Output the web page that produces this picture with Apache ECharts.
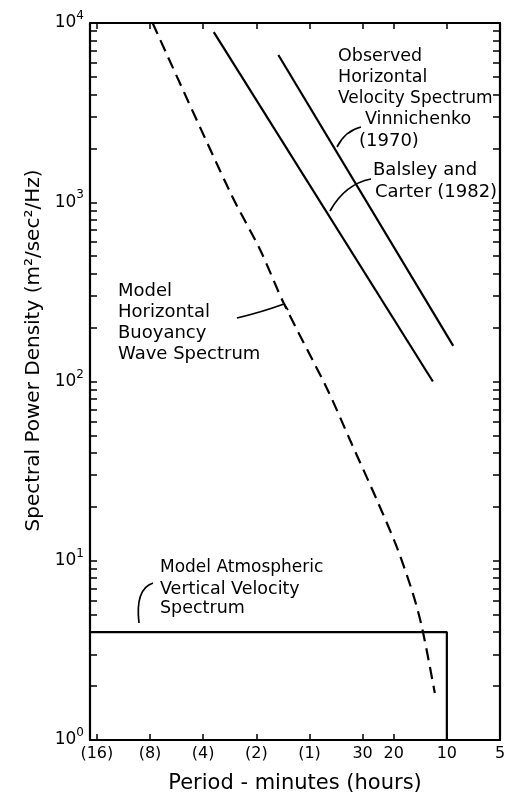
<!DOCTYPE html>
<html>
<head>
<meta charset="utf-8">
<script src="https://cdn.jsdelivr.net/npm/echarts@6/dist/echarts.min.js"></script>
<style>html,body{margin:0;padding:0;background:#fff}#chart{width:509px;height:801px}</style>
</head>
<body>
<div id="chart"></div>
<script>
// Period axis (minutes) ticks and labels
const periodTicks = [960, 480, 240, 120, 60, 30, 20, 10, 5];
const periodTickLabels = ['(16)', '(8)', '(4)', '(2)', '(1)', '30', '20', '10', '5'];
const periodMin = 5;
const periodMax = 1050;

// Density axis
const densityMajor = [1, 10, 100, 1000, 10000];
const densityMajorSup = ['0', '1', '2', '3', '4'];
const densityMin = 1;
const densityMax = 10000;

// Series: [period (min), spectral power density]
const vinnichenko = [[90, 6630], [9.2, 158]];
const balsleyCarter = [[209, 8900], [12, 100]];
const buoyancyModel = [[464, 10000], [168, 1126], [114, 541], [84, 274], [47.4, 90], [35.3, 47], [24.9, 21.8], [19.2, 11.9], [15.6, 6.6], [13.8, 4.2], [11.7, 1.83]];
const verticalModel = [[1050, 4], [10, 4], [10, 1]];

const densityTicks = [];
for (let d = 1; d < 10000; d *= 10) for (let k = 1; k <= 9; k++) densityTicks.push(d * k);
densityTicks.push(10000);

const FONT = 'DejaVu Sans';
const chart = echarts.init(document.getElementById('chart'), null, {renderer: 'canvas'});

function xAxisCfg(pos, showLabels) {
  return {
    type: 'log', position: pos, inverse: true, min: periodMin, max: periodMax,
    axisLine: {show: true, lineStyle: {color: '#000', width: 2.2}},
    axisTick: {show: true, inside: true, length: 6, customValues: periodTicks, lineStyle: {color: '#000', width: 1.5}},
    axisLabel: {show: showLabels, customValues: periodTicks, color: '#000', fontFamily: FONT, fontSize: 16, margin: 6,
      formatter: v => { const i = periodTicks.findIndex(p => Math.abs(p - v) < 1e-6); return i >= 0 ? periodTickLabels[i] : ''; }},
    splitLine: {show: false}, minorTick: {show: false},
    name: showLabels ? 'Period - minutes (hours)' : '', nameLocation: 'middle', nameGap: 33,
    nameTextStyle: {color: '#000', fontFamily: FONT, fontSize: 21}
  };
}
function yAxisCfg(pos, showLabels) {
  return {
    type: 'log', position: pos, min: densityMin, max: densityMax,
    axisLine: {show: true, lineStyle: {color: '#000', width: 2.2}},
    axisTick: {show: true, inside: true, length: 7, customValues: densityTicks, lineStyle: {color: '#000', width: 1.5}},
    axisLabel: {show: showLabels, customValues: densityMajor, margin: 6,
      formatter: v => { const i = densityMajor.findIndex(p => Math.abs(p - v) / p < 1e-6); return i >= 0 ? '{a|10}{b|' + densityMajorSup[i] + '}' : ''; },
      rich: {a: {fontFamily: FONT, fontSize: 17, color: '#000'}, b: {fontFamily: FONT, fontSize: 12, color: '#000', padding: [0, 0, 14, 0]}}},
    splitLine: {show: false}, minorTick: {show: false},
    name: showLabels ? 'Spectral Power Density (m²/sec²/Hz)' : '', nameLocation: 'middle', nameGap: 39, nameRotate: 90,
    nameTextStyle: {color: '#000', fontFamily: FONT, fontSize: 20, padding: [0, 0, 0, 62]}
  };
}

function txt(s, x, y, size) {
  return {type: 'text', style: {text: s, x: x, y: y, font: (size || 17) + 'px "' + FONT + '"', fill: '#000', textVerticalAlign: 'middle', verticalAlign: 'middle'}};
}
function curve(x1, y1, cx, cy, x2, y2) {
  return {type: 'bezierCurve', shape: {x1: x1, y1: y1, x2: x2, y2: y2, cpx1: cx, cpy1: cy}, style: {stroke: '#000', lineWidth: 1.7, fill: null}};
}

const lineBase = {type: 'line', showSymbol: false, symbol: 'none', xAxisIndex: 0, yAxisIndex: 0, clip: true, animation: false};

chart.setOption({
  backgroundColor: '#fff',
  animation: false,
  grid: {left: 90, right: 9, top: 23, bottom: 61, containLabel: false, outerBoundsMode: 'none'},
  xAxis: [xAxisCfg('bottom', true), xAxisCfg('top', false)],
  yAxis: [yAxisCfg('left', true), yAxisCfg('right', false)],
  series: [
    Object.assign({}, lineBase, {name: 'Vinnichenko (1970)', data: vinnichenko, lineStyle: {color: '#000', width: 2.2}}),
    Object.assign({}, lineBase, {name: 'Balsley and Carter (1982)', data: balsleyCarter, lineStyle: {color: '#000', width: 2.2}}),
    Object.assign({}, lineBase, {name: 'Model Horizontal Buoyancy Wave Spectrum', data: buoyancyModel, smooth: 0.3, lineStyle: {color: '#000', width: 2.2, type: [12, 7]}}),
    Object.assign({}, lineBase, {name: 'Model Atmospheric Vertical Velocity Spectrum', data: verticalModel, lineStyle: {color: '#000', width: 2.2}})
  ],
  graphic: [
    txt('Observed', 338, 56, 17.5), txt('Horizontal', 338, 77, 17.5), txt('Velocity Spectrum', 338, 99, 17),
    txt('Vinnichenko', 365, 119, 17.5), txt('(1970)', 359, 141, 18),
    txt('Balsley and', 373, 170, 18), txt('Carter (1982)', 375, 192, 18),
    txt('Model', 118, 291, 18), txt('Horizontal', 118, 312, 18), txt('Buoyancy', 118, 333, 18), txt('Wave Spectrum', 118, 354, 18),
    txt('Model Atmospheric', 160, 568, 17), txt('Vertical Velocity', 160, 589, 17.5), txt('Spectrum', 160, 608, 17.5),
    curve(337, 147, 345, 131, 361, 127),
    curve(330, 211, 345, 184, 371, 179),
    curve(237, 318, 262, 312, 284, 304),
    {type: 'line', shape: {x1: 284, y1: 304, x2: 288, y2: 310}, style: {stroke: '#000', lineWidth: 1.7}},
    curve(139, 623, 135, 589, 153, 583)
  ]
});
</script>
</body>
</html>
